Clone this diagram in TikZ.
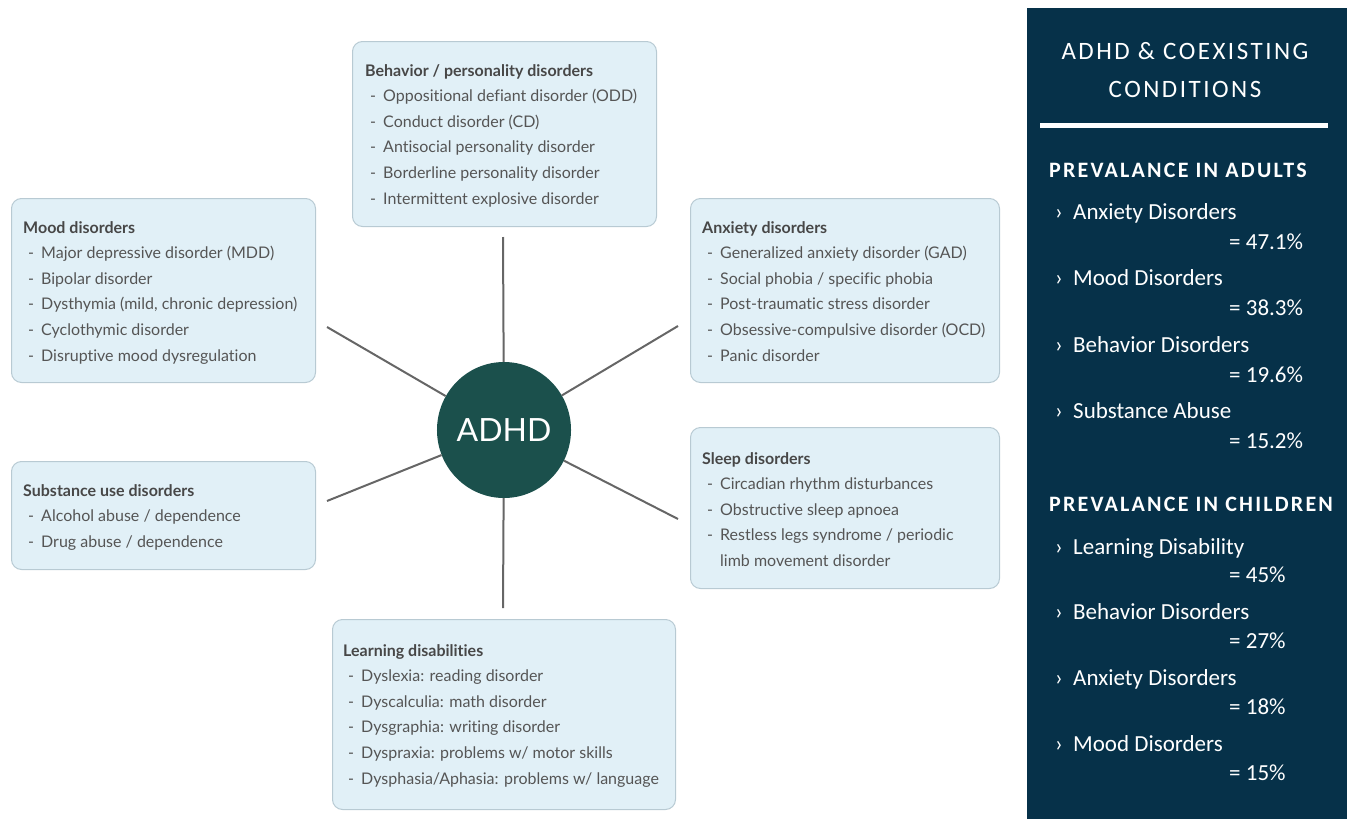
\documentclass[tikz,border=0pt]{standalone}
\usepackage{fontspec}
\setmainfont{Lato}[Ligatures=NoCommon]
\newfontfamily\panelfont{Carlito}
\newfontfamily\panelspaced[LetterSpace=10]{Carlito}
\usetikzlibrary{shapes.geometric}

\definecolor{boxfill}{HTML}{E1F0F7}
\definecolor{boxline}{HTML}{B8CAD3}
\definecolor{itemgrey}{HTML}{555555}
\definecolor{titlegrey}{HTML}{474747}
\definecolor{hubfill}{HTML}{1B504C}
\definecolor{spoke}{HTML}{666666}
\definecolor{navy}{HTML}{063149}

% list entries inside the condition boxes
\newcommand{\itm}[1]{\makebox[18pt][l]{\hspace{5pt}-}#1}
\newcommand{\cont}[1]{\hspace*{18pt}#1}
\newcommand{\hd}[1]{{\color{titlegrey}\bfseries #1}}

\tikzset{
  condbox/.style={draw=boxline, fill=boxfill, line width=1pt, rounded corners=10pt,
    inner sep=0pt, anchor=north west},
  listtext/.style={anchor=base west, inner sep=0pt, text=itemgrey,
    font=\fontsize{16}{25.6}\selectfont},
  spokeline/.style={draw=spoke, line width=2pt},
  sidepanel/.style={fill=navy, inner sep=0pt, anchor=north west},
  paneltitle/.style={anchor=base, inner sep=0pt, text=white,
    font=\panelspaced\fontsize{25}{30}\selectfont},
  panelhead/.style={anchor=base west, inner sep=0pt, text=white,
    font=\panelspaced\bfseries\fontsize{22}{26}\selectfont},
  panelitem/.style={anchor=base west, inner sep=0pt, text=white,
    font=\panelfont\fontsize{23}{28}\selectfont},
}

\begin{document}
\begin{tikzpicture}[x=1pt, y=-1pt]
\useasboundingbox (0,0) rectangle (1347,819);

% ---- condition boxes ----
\node[condbox, minimum width=304pt, minimum height=185pt] (beh)   at (352,41)  {};
\node[condbox, minimum width=304pt, minimum height=184pt] (mood)  at (11,198)  {};
\node[condbox, minimum width=309pt, minimum height=184pt] (anx)   at (690,198) {};
\node[condbox, minimum width=304pt, minimum height=108pt] (subst) at (11,461)  {};
\node[condbox, minimum width=309pt, minimum height=161pt] (sleep) at (690,427) {};
\node[condbox, minimum width=343pt, minimum height=190pt] (learn) at (332,619) {};

\node[listtext] (behT) at (365,76) {\begin{tabular}[t]{@{}l@{}}
  \hd{Behavior / personality disorders}\\
  \itm{Oppositional defiant disorder (ODD)}\\
  \itm{Conduct disorder (CD)}\\
  \itm{Antisocial personality disorder}\\
  \itm{Borderline personality disorder}\\
  \itm{Intermittent explosive disorder}
\end{tabular}};

\node[listtext] (moodT) at (23,233) {\begin{tabular}[t]{@{}l@{}}
  \hd{Mood disorders}\\
  \itm{Major depressive disorder (MDD)}\\
  \itm{Bipolar disorder}\\
  \itm{Dysthymia (mild, chronic depression)}\\
  \itm{Cyclothymic disorder}\\
  \itm{Disruptive mood dysregulation}
\end{tabular}};

\node[listtext] (anxT) at (702,233) {\begin{tabular}[t]{@{}l@{}}
  \hd{Anxiety disorders}\\
  \itm{Generalized anxiety disorder (GAD)}\\
  \itm{Social phobia / specific phobia}\\
  \itm{Post-traumatic stress disorder}\\
  \itm{Obsessive-compulsive disorder (OCD)}\\
  \itm{Panic disorder}
\end{tabular}};

\node[listtext] (substT) at (23,496) {\begin{tabular}[t]{@{}l@{}}
  \hd{Substance use disorders}\\
  \itm{Alcohol abuse / dependence}\\
  \itm{Drug abuse / dependence}
\end{tabular}};

\node[listtext] (sleepT) at (702,464) {\begin{tabular}[t]{@{}l@{}}
  \hd{Sleep disorders}\\
  \itm{Circadian rhythm disturbances}\\
  \itm{Obstructive sleep apnoea}\\
  \itm{Restless legs syndrome / periodic}\\
  \cont{limb movement disorder}
\end{tabular}};

\node[listtext] (learnT) at (343,656) {\begin{tabular}[t]{@{}l@{}}
  \hd{Learning disabilities}\\
  \itm{Dyslexia: reading disorder}\\
  \itm{Dyscalculia: math disorder}\\
  \itm{Dysgraphia: writing disorder}\\
  \itm{Dyspraxia: problems w/ motor skills}\\
  \itm{Dysphasia/Aphasia: problems w/ language}
\end{tabular}};

% ---- hub and spokes ----
\node[ellipse, fill=hubfill, minimum width=128pt, minimum height=136pt, inner sep=0pt,
  text=white, font=\fontsize{32}{36}\selectfont] (hub) at (504,430) {ADHD};

\coordinate (pBeh)   at (503,237);
\coordinate (pMood)  at (327,327);
\coordinate (pAnx)   at (678,326);
\coordinate (pSubst) at (327,501);
\coordinate (pSleep) at (678,519);
\coordinate (pLearn) at (503,608);

\foreach \p in {pBeh,pMood,pAnx,pSubst,pSleep,pLearn}
  \draw[spokeline] (\p) -- (hub);

% ---- prevalence panel ----
\node[sidepanel, minimum width=320pt, minimum height=811pt] (side) at (1027,8) {};
\node[paneltitle] (ttlA) at (1185,59) {ADHD \& COEXISTING};
\node[paneltitle] (ttlB) at (1185,97) {CONDITIONS};
\draw[white, line width=5pt] (1040,125.5) -- (1328,125.5);

\node[panelhead] (headA) at (1049,177) {PREVALANCE IN ADULTS};
\node[panelitem] (a1) at (1055,219)   {\makebox[18pt][l]{›}Anxiety Disorders};
\node[panelitem] (a1v) at (1229,249)  {= 47.1\%};
\node[panelitem] (a2) at (1055,285.5) {\makebox[18pt][l]{›}Mood Disorders};
\node[panelitem] (a2v) at (1229,315.5){= 38.3\%};
\node[panelitem] (a3) at (1055,352)   {\makebox[18pt][l]{›}Behavior Disorders};
\node[panelitem] (a3v) at (1229,382)  {= 19.6\%};
\node[panelitem] (a4) at (1055,418.5) {\makebox[18pt][l]{›}Substance Abuse};
\node[panelitem] (a4v) at (1229,448.5){= 15.2\%};

\node[panelhead] (headC) at (1049,511) {PREVALANCE IN CHILDREN};
\node[panelitem] (c1) at (1055,554)   {\makebox[18pt][l]{›}Learning Disability};
\node[panelitem] (c1v) at (1229,582)  {= 45\%};
\node[panelitem] (c2) at (1055,619.5) {\makebox[18pt][l]{›}Behavior Disorders};
\node[panelitem] (c2v) at (1229,648)  {= 27\%};
\node[panelitem] (c3) at (1055,685)   {\makebox[18pt][l]{›}Anxiety Disorders};
\node[panelitem] (c3v) at (1229,714)  {= 18\%};
\node[panelitem] (c4) at (1055,751)   {\makebox[18pt][l]{›}Mood Disorders};
\node[panelitem] (c4v) at (1229,780)  {= 15\%};
\end{tikzpicture}
\end{document}
